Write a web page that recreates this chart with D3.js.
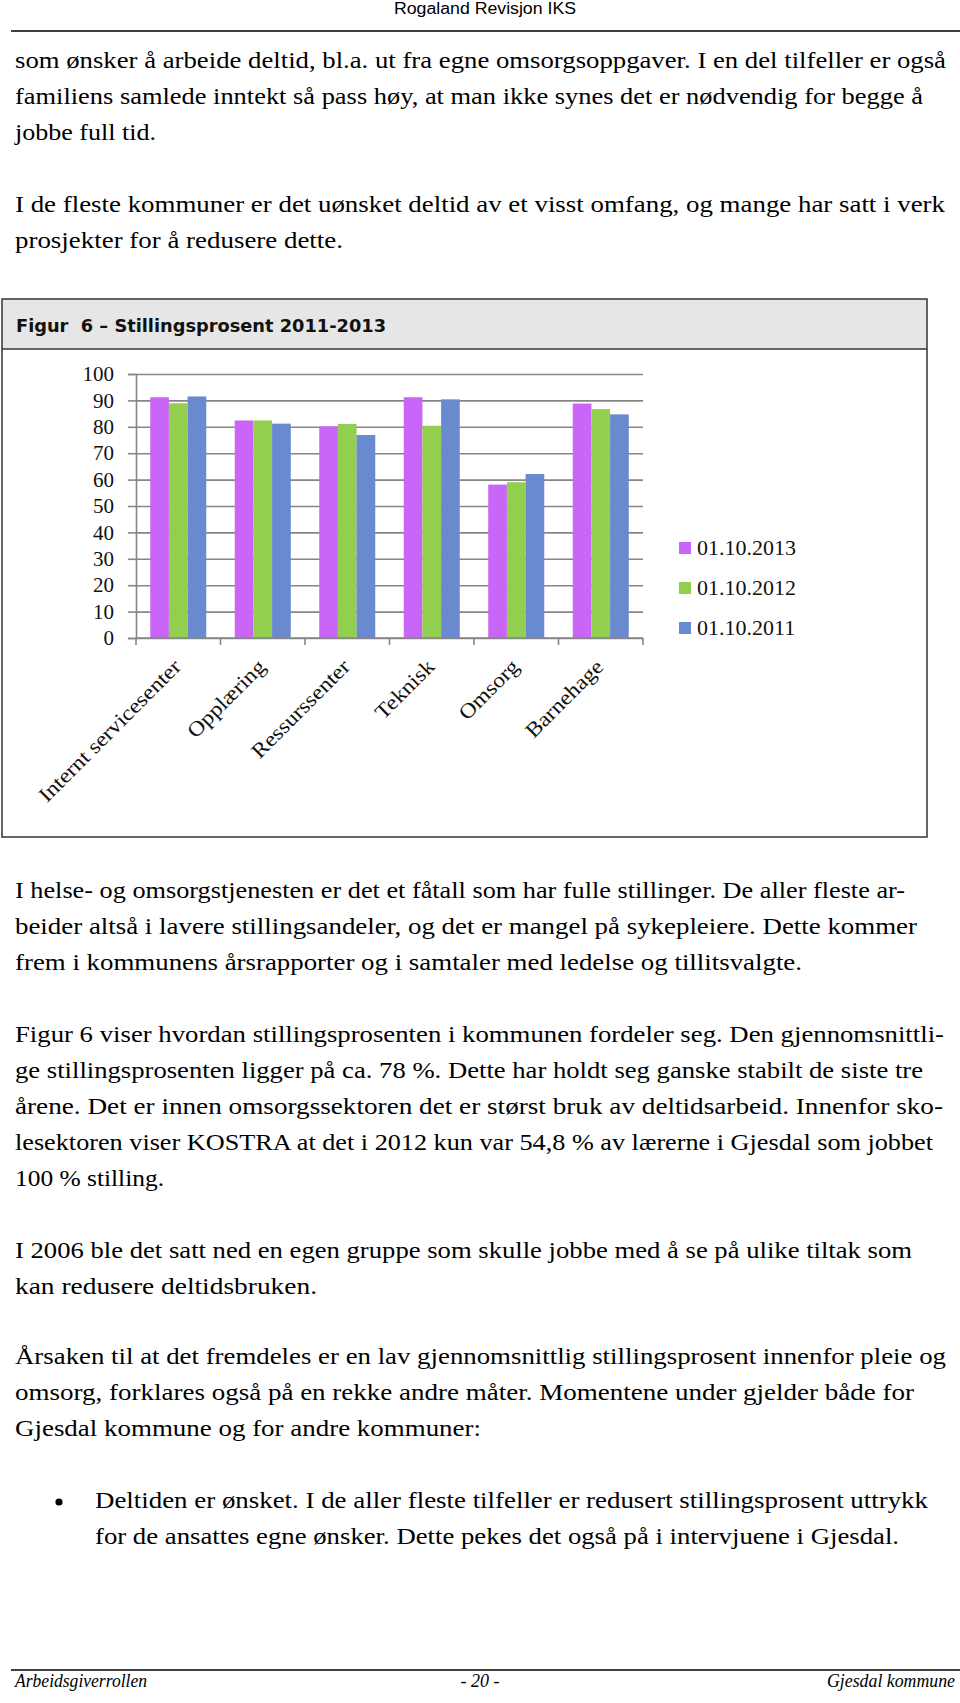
<!DOCTYPE html>
<html>
<head>
<meta charset="utf-8">
<script src="https://cdn.jsdelivr.net/npm/d3@7"></script>
<style>
  body { margin: 0; background: #fff; }
  svg { display: block; }
</style>
</head>
<body>
<div id="page"></div>
<script>
/* Chart data */
let categories = ["Internt servicesenter", "Opplæring", "Ressurssenter", "Teknisk", "Omsorg", "Barnehage"];
let seriesNames = ["01.10.2013", "01.10.2012", "01.10.2011"];
let values2013 = [91.2, 82.4, 80.2, 91.2, 58.1, 88.8];
let values2012 = [88.9, 82.4, 81.1, 80.4, 59.0, 86.7];
let values2011 = [91.5, 81.2, 76.9, 90.4, 62.1, 84.7];
let yTicks = [0, 10, 20, 30, 40, 50, 60, 70, 80, 90, 100];
let colors = ["#c965f7", "#93cf4f", "#6a8ad0"];
let chartTitle = "Figur  6 – Stillingsprosent 2011-2013";

/* Page text: [text, x, baseline, right end] */
let bodyLines = [
  ["som ønsker å arbeide deltid, bl.a. ut fra egne omsorgsoppgaver. I en del tilfeller er også", 15, 68, 946],
  ["familiens samlede inntekt så pass høy, at man ikke synes det er nødvendig for begge å", 15, 104, 923],
  ["jobbe full tid.", 15, 140, 156],
  ["I de fleste kommuner er det uønsket deltid av et visst omfang, og mange har satt i verk", 15, 212, 945],
  ["prosjekter for å redusere dette.", 15, 248, 343],
  ["I helse- og omsorgstjenesten er det et fåtall som har fulle stillinger. De aller fleste ar-", 15, 898, 905],
  ["beider altså i lavere stillingsandeler, og det er mangel på sykepleiere. Dette kommer", 15, 934, 917],
  ["frem i kommunens årsrapporter og i samtaler med ledelse og tillitsvalgte.", 15, 970, 802],
  ["Figur 6 viser hvordan stillingsprosenten i kommunen fordeler seg. Den gjennomsnittli-", 15, 1042, 944],
  ["ge stillingsprosenten ligger på ca. 78 %. Dette har holdt seg ganske stabilt de siste tre", 15, 1078, 923],
  ["årene. Det er innen omsorgssektoren det er størst bruk av deltidsarbeid.  Innenfor sko-", 15, 1114, 943],
  ["lesektoren viser KOSTRA at det i 2012 kun var 54,8 % av lærerne i Gjesdal som jobbet", 15, 1150, 933],
  ["100 % stilling.", 15, 1186, 164],
  ["I 2006 ble det satt ned en egen gruppe som skulle jobbe med å se på ulike tiltak som", 15, 1258, 912],
  ["kan redusere deltidsbruken.", 15, 1294, 317],
  ["Årsaken til at det fremdeles er en lav gjennomsnittlig stillingsprosent innenfor pleie og", 15, 1364, 946],
  ["omsorg, forklares også på en rekke andre måter. Momentene under gjelder både for", 15, 1400, 914],
  ["Gjesdal kommune og for andre kommuner:", 15, 1436, 481],
  ["Deltiden er ønsket. I de aller fleste tilfeller er redusert stillingsprosent uttrykk", 95, 1508, 928],
  ["for de ansattes egne ønsker. Dette pekes det også på i intervjuene i Gjesdal.", 95, 1544, 899]
];

let width = 960;
let height = 1703;
let serif = "'Liberation Serif', 'DejaVu Serif', serif";

let svg = d3.select("#page")
  .append("svg")
  .attr("width", width)
  .attr("height", height);

svg.append("rect").attr("width", width).attr("height", height).attr("fill", "#fff");

/* Header and footer */
svg.append("text")
  .attr("x", 394).attr("y", 14)
  .style("font-family", "'Liberation Sans', Arial, sans-serif")
  .style("font-size", "16px")
  .attr("textLength", 182).attr("lengthAdjust", "spacingAndGlyphs")
  .text("Rogaland Revisjon IKS");

svg.append("line").attr("x1", 11).attr("x2", 960).attr("y1", 31).attr("y2", 31)
  .attr("stroke", "#000").attr("stroke-width", 1.4);

svg.append("line").attr("x1", 11).attr("x2", 960).attr("y1", 1670).attr("y2", 1670)
  .attr("stroke", "#000").attr("stroke-width", 1.4);

let footer = svg.append("g")
  .style("font-family", serif)
  .style("font-style", "italic")
  .style("font-size", "18px");
footer.append("text").attr("x", 15).attr("y", 1687)
  .attr("textLength", 132).attr("lengthAdjust", "spacingAndGlyphs").text("Arbeidsgiverrollen");
footer.append("text").attr("x", 480).attr("y", 1687).attr("text-anchor", "middle").text("- 20 -");
footer.append("text").attr("x", 955).attr("y", 1687).attr("text-anchor", "end")
  .attr("textLength", 128).attr("lengthAdjust", "spacingAndGlyphs").text("Gjesdal kommune");

/* Body text */
svg.append("g")
  .style("font-family", serif)
  .style("font-size", "23px")
  .style("white-space", "pre")
  .selectAll("text")
  .data(bodyLines)
  .enter()
  .append("text")
  .attr("x", d => d[1])
  .attr("y", d => d[2])
  .attr("textLength", d => d[3] - d[1])
  .attr("lengthAdjust", "spacingAndGlyphs")
  .text(d => d[0]);

svg.append("circle").attr("cx", 59).attr("cy", 1502).attr("r", 3.6).attr("fill", "#000");

/* Figure box */
let box = { x: 2, y: 299, w: 925, h: 538, band: 50 };

svg.append("rect")
  .attr("x", box.x).attr("y", box.y)
  .attr("width", box.w).attr("height", box.band)
  .attr("fill", "#e6e6e6");

svg.append("rect")
  .attr("x", box.x).attr("y", box.y)
  .attr("width", box.w).attr("height", box.h)
  .attr("fill", "none").attr("stroke", "#333").attr("stroke-width", 1.5);

svg.append("line")
  .attr("x1", box.x).attr("x2", box.x + box.w)
  .attr("y1", box.y + box.band).attr("y2", box.y + box.band)
  .attr("stroke", "#333").attr("stroke-width", 1.5);

svg.append("text")
  .attr("x", 16).attr("y", 332)
  .style("font-family", "'DejaVu Sans', Verdana, sans-serif")
  .style("font-weight", "bold")
  .style("font-size", "18px")
  .style("white-space", "pre")
  .attr("fill", "#111")
  .attr("textLength", 370).attr("lengthAdjust", "spacingAndGlyphs")
  .text(chartTitle);

/* Scales */
let plot = { left: 136, right: 643, top: 374, bottom: 638 };

let x0 = d3.scaleBand()
  .domain(categories)
  .range([plot.left, plot.right])
  .paddingInner(0.337)
  .paddingOuter(0.1686);

let x1 = d3.scaleBand()
  .domain(seriesNames)
  .range([0, x0.bandwidth()]);

let y = d3.scaleLinear()
  .domain([0, 100])
  .range([plot.bottom, plot.top]);

let color = d3.scaleOrdinal().domain(seriesNames).range(colors);

let rows = categories.map((c, i) => ({
  name: c,
  values: [
    { key: seriesNames[0], value: values2013[i] },
    { key: seriesNames[1], value: values2012[i] },
    { key: seriesNames[2], value: values2011[i] }
  ]
}));

let chart = svg.append("g");

/* Gridlines */
chart.append("g")
  .attr("transform", `translate(${plot.left},0)`)
  .call(d3.axisLeft(y).tickValues(yTicks).tickSize(-(plot.right - plot.left)).tickFormat(""))
  .call(g => g.select(".domain").remove())
  .selectAll("line")
  .attr("stroke", "#868686")
  .attr("stroke-width", 1.6);

/* Bars */
chart.append("g")
  .selectAll("g")
  .data(rows)
  .enter()
  .append("g")
  .attr("transform", d => `translate(${x0(d.name)},0)`)
  .selectAll("rect")
  .data(d => d.values)
  .enter()
  .append("rect")
  .attr("x", d => x1(d.key))
  .attr("y", d => y(d.value))
  .attr("width", x1.bandwidth())
  .attr("height", d => y(0) - y(d.value))
  .attr("fill", d => color(d.key));

/* Y axis */
let yAxis = chart.append("g")
  .attr("transform", `translate(${plot.left},0)`)
  .call(d3.axisLeft(y).tickValues(yTicks).tickSize(8).tickPadding(14));
yAxis.select(".domain").attr("stroke", "#868686").attr("stroke-width", 1.6);
yAxis.selectAll(".tick line").attr("stroke", "#868686").attr("stroke-width", 1.6);
yAxis.selectAll(".tick text")
  .attr("fill", "#111")
  .style("font-family", serif)
  .style("font-size", "21px");

/* X axis */
let halfGap = (x0.step() - x0.bandwidth()) / 2;
let bounds = categories.map(c => x0(c) - halfGap).concat([x0(categories[categories.length - 1]) + x0.bandwidth() + halfGap]);

chart.append("line")
  .attr("x1", plot.left).attr("x2", plot.right)
  .attr("y1", y(0)).attr("y2", y(0))
  .attr("stroke", "#868686").attr("stroke-width", 1.6);

chart.append("g")
  .selectAll("line")
  .data(bounds)
  .enter()
  .append("line")
  .attr("x1", d => d).attr("x2", d => d)
  .attr("y1", y(0)).attr("y2", y(0) + 7)
  .attr("stroke", "#868686").attr("stroke-width", 1.6);

let xLabels = chart.append("g")
  .selectAll("text")
  .data(categories)
  .enter()
  .append("text")
  .attr("transform", d => `translate(${x0(d) + x0.bandwidth() / 2 + 4},${y(0) + 30}) rotate(-45)`)
  .attr("text-anchor", "end")
  .attr("fill", "#111")
  .style("font-family", serif)
  .style("font-size", "21px")
  .text(d => d);

xLabels.each(function() {
  let w = this.getComputedTextLength();
  d3.select(this).attr("textLength", w * 1.12).attr("lengthAdjust", "spacingAndGlyphs");
});

/* Legend */
let legend = chart.append("g")
  .selectAll("g")
  .data(seriesNames)
  .enter()
  .append("g")
  .attr("transform", (d, i) => `translate(679,${542 + i * 40})`);

legend.append("rect")
  .attr("width", 12).attr("height", 12)
  .attr("fill", d => color(d));

legend.append("text")
  .attr("x", 18).attr("y", 13)
  .attr("fill", "#111")
  .style("font-family", serif)
  .style("font-size", "22px")
  .text(d => d);
</script>
</body>
</html>
